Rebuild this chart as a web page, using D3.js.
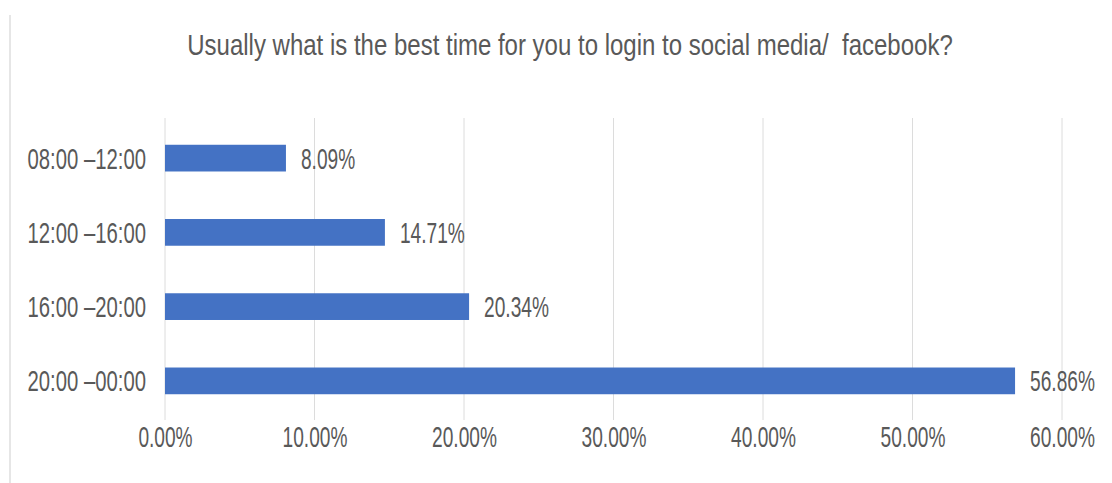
<!DOCTYPE html>
<html>
<head>
<meta charset="utf-8">
<script src="https://cdn.jsdelivr.net/npm/d3@7"></script>
<style>
  html, body { margin: 0; padding: 0; background: #ffffff; }
  svg { display: block; }
  text { font-family: "Liberation Sans", Arial, sans-serif; fill: #595959; }
</style>
</head>
<body>
<svg id="chart" width="1112" height="483"></svg>
<script>
// Survey answers: preferred time slot for logging in to social media
const categories = ["08:00 –12:00", "12:00 –16:00", "16:00 –20:00", "20:00 –00:00"];
const shares = [8.09, 14.71, 20.34, 56.86];
const tickValues = [0, 10, 20, 30, 40, 50, 60];
const tickLabels = ["0.00%", "10.00%", "20.00%", "30.00%", "40.00%", "50.00%", "60.00%"];
const valueLabels = ["8.09%", "14.71%", "20.34%", "56.86%"];
const chartTitle = "Usually what is the best time for you to login to social media/  facebook?";

const svg = d3.select("#chart");
const W = 1112, H = 483;

// Plot area
const plot = { left: 165, right: 1062, top: 121, bottom: 418 };

const x = d3.scaleLinear().domain([0, 60]).range([plot.left, plot.right]);
const y = d3.scaleBand().domain(categories).range([plot.top, plot.bottom]).paddingInner(0.64).paddingOuter(0.32);

// Narrow the glyphs horizontally (condensed look): move the anchor point
// into a transform and squeeze the text along x around it.
function condense(sel, k) {
  sel.each(function () {
    const t = d3.select(this);
    const tx = +t.attr("x") || 0;
    const ty = +t.attr("y") || 0;
    t.attr("x", null).attr("y", null)
     .attr("transform", `translate(${tx},${ty}) scale(${k},1)`);
  });
}

// Chart-area border on the left edge
svg.append("line")
  .attr("x1", 10).attr("x2", 10).attr("y1", 15).attr("y2", H)
  .attr("stroke", "#e6e6e6").attr("stroke-width", 2);

// Title
svg.append("text")
  .attr("x", 570).attr("y", 55)
  .attr("text-anchor", "middle")
  .style("font-size", "30px")
  .style("white-space", "pre")
  .text(chartTitle)
  .call(condense, 0.80);

// Vertical gridlines
svg.append("g")
  .selectAll("line")
  .data(tickValues)
  .join("line")
  .attr("x1", d => x(d)).attr("x2", d => x(d))
  .attr("y1", plot.top - 3).attr("y2", plot.bottom + 2)
  .attr("stroke", "#dcdcdc").attr("stroke-width", 1);

// Bottom axis labels (no axis line)
const xAxis = d3.axisBottom(x)
  .tickValues(tickValues)
  .tickFormat((d, i) => tickLabels[i])
  .tickSize(0)
  .tickPadding(0);

const gx = svg.append("g")
  .attr("transform", `translate(0, 447)`)
  .call(xAxis);
gx.select(".domain").remove();
gx.attr("font-family", null).attr("font-size", null);
gx.selectAll("text")
  .attr("dy", 0)
  .attr("y", 0)
  .style("font-size", "29px")
  .attr("fill", "#595959")
  .call(condense, 0.66);

// Left category axis (labels only)
const yAxis = d3.axisLeft(y).tickSize(0).tickPadding(19);
const gy = svg.append("g")
  .attr("transform", `translate(${plot.left}, 0)`)
  .call(yAxis);
gy.select(".domain").remove();
gy.attr("font-family", null).attr("font-size", null);
gy.selectAll("text")
  .attr("dy", "0.36em")
  .style("font-size", "29px")
  .attr("fill", "#595959")
  .call(condense, 0.70);

// Bars
svg.append("g")
  .selectAll("rect")
  .data(shares)
  .join("rect")
  .attr("x", x(0))
  .attr("y", (d, i) => y(categories[i]))
  .attr("width", d => x(d) - x(0))
  .attr("height", y.bandwidth())
  .attr("fill", "#4472c4");

// Value labels at the bar ends
svg.append("g")
  .selectAll("text")
  .data(shares)
  .join("text")
  .attr("x", d => x(d) + 15)
  .attr("y", (d, i) => y(categories[i]) + y.bandwidth() / 2)
  .attr("dy", "0.36em")
  .style("font-size", "29px")
  .text((d, i) => valueLabels[i])
  .call(condense, 0.66);
</script>
</body>
</html>
